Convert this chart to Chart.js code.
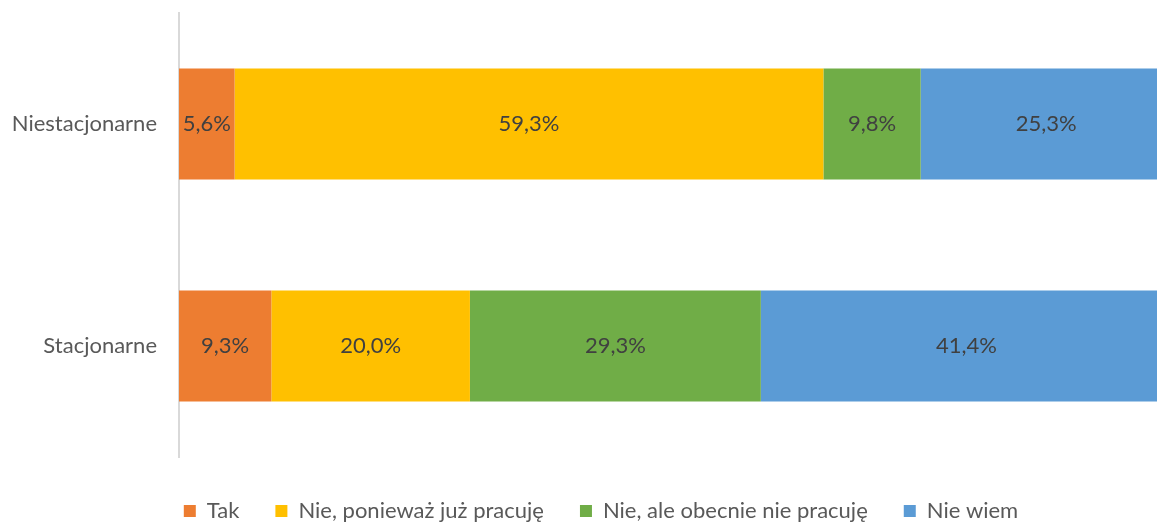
<!DOCTYPE html>
<html>
<head>
<meta charset="utf-8">
<script src="https://cdn.jsdelivr.net/npm/chart.js@4"></script>
<style>
  html, body { margin: 0; padding: 0; background: #fff; }
  #wrap { width: 1157px; height: 523px; }
</style>
</head>
<body>
<div id="wrap"><canvas id="myChart"></canvas></div>
<script>
// categories and series (percent)
var categories = ['Niestacjonarne', 'Stacjonarne'];
var seriesNames = ['Tak', 'Nie, ponieważ już pracuję', 'Nie, ale obecnie nie pracuję', 'Nie wiem'];
var tak = [5.6, 9.3];
var niePracuje = [59.3, 20.0];
var nieObecnie = [9.8, 29.3];
var nieWiem = [25.3, 41.4];
var colors = ['#ED7D31', '#FFC000', '#70AD47', '#5B9BD5'];

// the original picture is cut on the right: the 100% end lies past the edge
var xMax = 98.5;

var FONT = 'Lato, "Open Sans", sans-serif';

// draw value labels in the middle of each segment
var valueLabels = {
    id: 'valueLabels',
    afterDatasetsDraw: function (chart) {
        var ctx = chart.ctx;
        ctx.save();
        ctx.font = '22px ' + FONT;
        ctx.fillStyle = '#404040';
        ctx.textAlign = 'center';
        ctx.textBaseline = 'middle';
        chart.data.datasets.forEach(function (ds, i) {
            chart.getDatasetMeta(i).data.forEach(function (bar, j) {
                var x = (bar.x + bar.base) / 2;
                ctx.fillText(ds.data[j].toFixed(1).replace('.', ',') + '%', x, bar.y);
            });
        });
        ctx.restore();
    }
};

var allData = [tak, niePracuje, nieObecnie, nieWiem];
var datasets = [];
for (var i = 0; i < seriesNames.length; i++) {
    datasets.push({
        label: seriesNames[i],
        data: allData[i],
        backgroundColor: colors[i],
        borderWidth: 0,
        barPercentage: 0.5,
        categoryPercentage: 1.0
    });
}

new Chart(document.querySelector('#myChart'), {
    type: 'bar',
    data: { labels: categories, datasets: datasets },
    plugins: [valueLabels],
    options: {
        indexAxis: 'y',
        responsive: true,
        maintainAspectRatio: false,
        animation: false,
        layout: { padding: { top: 13, right: -45, bottom: -9, left: 0 } },
        scales: {
            x: {
                stacked: true,
                min: 0,
                max: xMax,
                grid: { display: false, drawTicks: false },
                border: { display: false },
                ticks: { display: false },
                // small empty gap between bars and legend
                afterFit: function (scale) { scale.height = 7; }
            },
            y: {
                stacked: true,
                grid: { display: false, drawTicks: false },
                border: { display: true, color: '#D9D9D9', width: 2 },
                ticks: {
                    padding: 22,
                    color: '#595959',
                    font: { family: FONT, size: 22 }
                },
                afterFit: function (scale) {
                    scale.width = 179;
                    scale.paddingTop = 0;
                    scale.paddingBottom = 0;
                }
            }
        },
        plugins: {
            tooltip: { enabled: false },
            legend: {
                position: 'bottom',
                labels: {
                    boxWidth: 12,
                    boxHeight: 12,
                    padding: 36,
                    color: '#595959',
                    font: { family: FONT, size: 22 }
                }
            }
        }
    }
});
</script>
</body>
</html>
